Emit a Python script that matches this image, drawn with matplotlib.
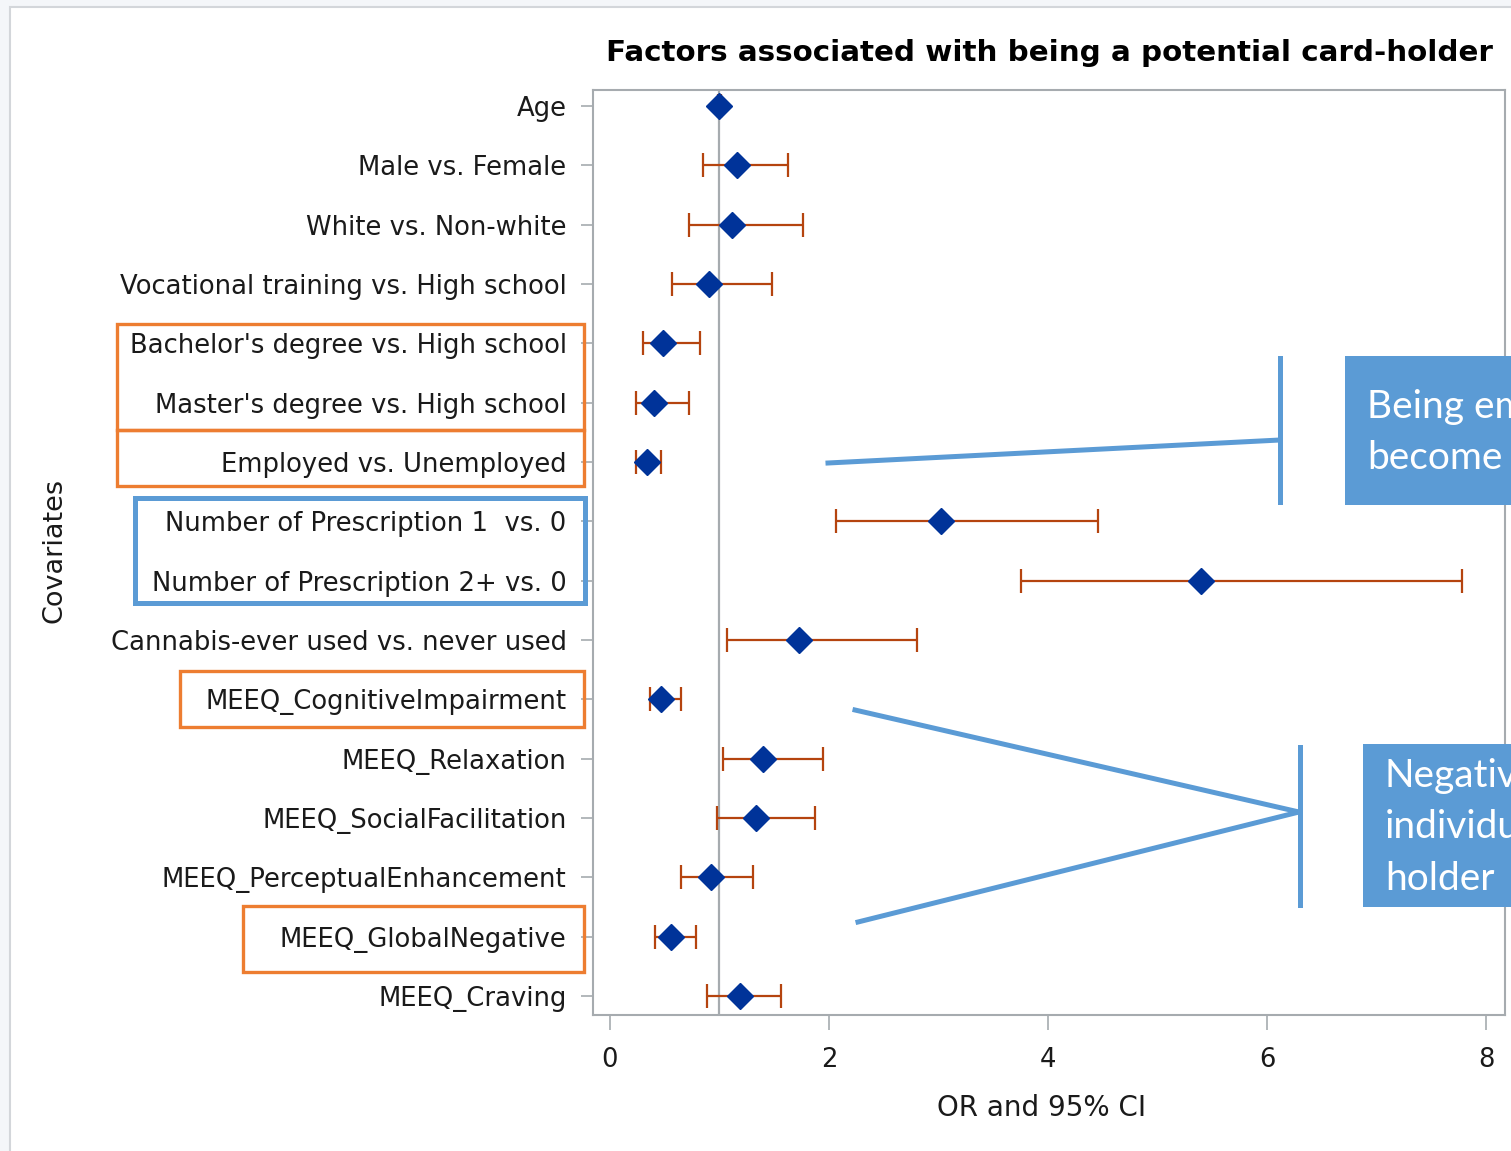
import matplotlib
matplotlib.use("Agg")
import matplotlib.pyplot as plt
from matplotlib.patches import Rectangle
from matplotlib.lines import Line2D

# covariates, top to bottom
labels = ["Age", "Male vs. Female", "White vs. Non-white",
          "Vocational training vs. High school",
          "Bachelor's degree vs. High school",
          "Master's degree vs. High school",
          "Employed vs. Unemployed",
          "Number of Prescription 1  vs. 0",
          "Number of Prescription 2+ vs. 0",
          "Cannabis-ever used vs. never used",
          "MEEQ_CognitiveImpairment", "MEEQ_Relaxation",
          "MEEQ_SocialFacilitation", "MEEQ_PerceptualEnhancement",
          "MEEQ_GlobalNegative", "MEEQ_Craving"]
odds = [1.00, 1.16, 1.11, 0.90, 0.48, 0.40, 0.34, 3.02, 5.40, 1.73,
        0.47, 1.40, 1.33, 0.92, 0.56, 1.19]
ci_low = [0.99, 0.85, 0.72, 0.57, 0.30, 0.24, 0.24, 2.06, 3.75, 1.07,
          0.37, 1.03, 0.98, 0.65, 0.41, 0.89]
ci_high = [1.01, 1.63, 1.76, 1.48, 0.82, 0.72, 0.47, 4.46, 7.78, 2.80,
           0.65, 1.95, 1.87, 1.31, 0.79, 1.56]
xticks = [0, 2, 4, 6, 8]

W, H = 1511, 1151
plt.rcParams['font.family'] = ['DejaVu Sans']

fig = plt.figure(figsize=(W / 100, H / 100), dpi=100)
fig.patch.set_facecolor("#f4f6f9")

def px(x, y):
    # figure pixel (from top-left) -> figure fraction
    return x / W, 1 - y / H

# white page with light frame
fig.add_artist(Rectangle(px(10, 1160), (W + 20) / W, (1160 - 7) / H,
                         transform=fig.transFigure, facecolor="white",
                         edgecolor="#d3d6da", lw=1.5, zorder=0))

ax = fig.add_axes([593 / W, 1 - 1015 / H, (1505 - 593) / W, (1015 - 90) / H])
ax.set_zorder(1)

ypos = list(range(len(labels)))
err = [[o - l for o, l in zip(odds, ci_low)],
       [h - o for o, h in zip(odds, ci_high)]]
ax.errorbar(odds, ypos, xerr=err, fmt="none", ecolor="#b5440f",
            elinewidth=1.6, capsize=8.5, capthick=1.6, zorder=2)
ax.plot(odds, ypos, "D", color="#003399", markersize=13, zorder=3, ls="none")
ax.axvline(1, color="#a6abaf", lw=1.6, zorder=1)

ax.set_xlim(-0.155, 8.174)
ax.set_ylim(15.32, -0.27)
ax.set_yticks(ypos)
ax.set_yticklabels(labels, fontsize=18.6, color="#1a1a1a")
ax.set_xticks(xticks)
ax.set_xticklabels([str(t) for t in xticks], fontsize=18.6, color="#1a1a1a")
ax.tick_params(axis="y", length=9, width=1.2, color="#a6abaf", pad=10)
ax.tick_params(axis="x", length=11, width=1.2, color="#a6abaf", pad=12)
for s in ax.spines.values():
    s.set_color("#a6abaf")
    s.set_linewidth(1.5)

fig.text(*px(1049, 53), "Factors associated with being a potential card-holder",
         fontsize=21.2, fontweight="bold", ha="center", va="center")
fig.text(*px(55, 550), "Covariates", rotation=90, fontsize=19.5,
         ha="center", va="center", color="#1a1a1a")
fig.text(*px(1042, 1108), "OR and 95% CI", fontsize=20,
         ha="center", va="center", color="#1a1a1a")

# highlight boxes around labels
def box(x0, y0, x1, y1, color, lw):
    fig.add_artist(Rectangle(px(x0, y1), (x1 - x0) / W, (y1 - y0) / H,
                             transform=fig.transFigure, fill=False,
                             edgecolor=color, lw=lw, zorder=5))

orange = "#ed7d31"
blue = "#5b9bd5"
box(117, 324, 584, 430, orange, 2.4)
box(117, 430, 584, 486, orange, 2.4)
box(135, 498, 585, 603, blue, 3.6)
box(180, 671, 584, 727, orange, 2.4)
box(243, 906, 584, 972, orange, 2.4)

# callouts
def seg(x0, y0, x1, y1):
    a, b = px(x0, y0), px(x1, y1)
    fig.add_artist(Line2D([a[0], b[0]], [a[1], b[1]], transform=fig.transFigure,
                          color=blue, lw=3.6, zorder=5))

seg(828, 463, 1280, 440)
seg(1280, 358, 1280, 502)
seg(855, 710, 1299, 812)
seg(858, 922, 1299, 812)
seg(1300, 747, 1300, 905)

def callout(x0, y0, y1, lines_):
    fig.add_artist(Rectangle(px(x0, y1), (W + 10 - x0) / W, (y1 - y0) / H,
                             transform=fig.transFigure, facecolor=blue,
                             edgecolor="none", zorder=5))
    fig.text(*px(x0 + 22, (y0 + y1) / 2 + 2), "\n".join(lines_), color="white",
             fontsize=28, family="Lato", ha="left", va="center",
             linespacing=1.52, zorder=6)

callout(1345, 356, 505, ["Being em", "become"])
callout(1363, 744, 907, ["Negativ", "individu", "holder"])

fig.savefig("out.png", dpi=100, facecolor=fig.get_facecolor())
